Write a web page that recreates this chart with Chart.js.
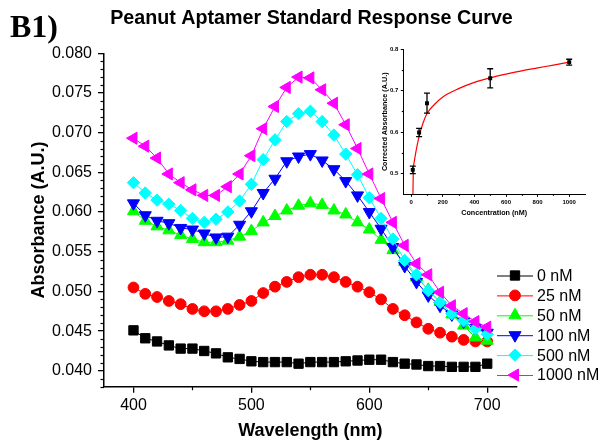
<!DOCTYPE html>
<html><head><meta charset="utf-8">
<script src="https://cdn.jsdelivr.net/npm/chart.js@4"></script>
<style>
html,body{margin:0;padding:0;background:#fff;}
#wrap{position:relative;width:598px;height:445px;}
#wrap canvas{position:absolute;left:0;top:0;}
</style></head><body>
<div id="wrap"><canvas id="main" width="598" height="445"></canvas><canvas id="inset" width="598" height="445"></canvas></div>
<script>
// ---------- data (main plot) ----------
const wavelengths = [400,410,420,430,440,450,460,470,480,490,500,510,520,530,540,550,560,570,580,590,600,610,620,630,640,650,660,670,680,690,700];
const seriesLabels = ['0 nM','25 nM','50 nM','100 nM','500 nM','1000 nM'];
const abs0nM    = [0.0451,0.0441,0.0437,0.0432,0.0428,0.0428,0.0425,0.0422,0.0417,0.0415,0.0412,0.0411,0.0411,0.0411,0.0409,0.0411,0.0411,0.0411,0.0412,0.0413,0.0414,0.0414,0.0411,0.0409,0.0408,0.0406,0.0406,0.0405,0.0405,0.0405,0.0409];
const abs25nM   = [0.0505,0.0497,0.0493,0.0488,0.0484,0.0478,0.0475,0.0475,0.0478,0.0483,0.0488,0.0498,0.0506,0.0512,0.0518,0.0521,0.0521,0.0518,0.0512,0.0506,0.0499,0.0490,0.0478,0.0470,0.0461,0.0453,0.0448,0.0443,0.0439,0.0437,0.0437];
const abs50nM   = [0.0601,0.0589,0.0582,0.0577,0.0571,0.0566,0.0562,0.0562,0.0564,0.0569,0.0576,0.0587,0.0595,0.0602,0.0608,0.0611,0.0609,0.0602,0.0597,0.0587,0.0578,0.0565,0.0552,0.0537,0.0518,0.0502,0.0487,0.0471,0.0457,0.0442,0.0438];
const abs100nM  = [0.0611,0.0596,0.0589,0.0586,0.0580,0.0578,0.0573,0.0568,0.0569,0.0584,0.0601,0.0624,0.0642,0.0664,0.0670,0.0673,0.0665,0.0654,0.0639,0.0621,0.0600,0.0579,0.0556,0.0532,0.0512,0.0495,0.0482,0.0471,0.0462,0.0454,0.0448];
const abs500nM  = [0.0637,0.0624,0.0615,0.0610,0.0602,0.0592,0.0587,0.0591,0.0600,0.0614,0.0635,0.0666,0.0691,0.0714,0.0724,0.0727,0.0714,0.0697,0.0673,0.0647,0.0618,0.0592,0.0566,0.0539,0.0521,0.0501,0.0486,0.0472,0.0463,0.0453,0.0446];
const abs1000nM = [0.0693,0.0683,0.0668,0.0648,0.0637,0.0628,0.0621,0.0621,0.0632,0.0648,0.0671,0.0705,0.0733,0.0757,0.0770,0.0769,0.0754,0.0737,0.0710,0.0680,0.0648,0.0617,0.0587,0.0558,0.0535,0.0521,0.0499,0.0482,0.0472,0.0462,0.0455];
const xTicks = [400,500,600,700];
const xMinorTicks = [450,550,650];
const yTicks = [0.040,0.045,0.050,0.055,0.060,0.065,0.070,0.075,0.080];
const yMinorTicks = [0.038,0.039,0.041,0.042,0.043,0.044,0.046,0.047,0.048,0.049,0.051,0.052,0.053,0.054,0.056,0.057,0.058,0.059,0.061,0.062,0.063,0.064,0.066,0.067,0.068,0.069,0.071,0.072,0.073,0.074,0.076,0.077,0.078,0.079];

// ---------- data (inset) ----------
const insetConc = [10,50,100,500,1000];
const insetAbs  = [0.509,0.599,0.670,0.730,0.769];
const insetErr  = [0.009,0.010,0.024,0.023,0.007];
const fitConc = [11,13,20,30,50,75,100,150,200,300,400,500,600,700,800,900,1000];
const fitAbs  = [0.450,0.500,0.530,0.553,0.590,0.622,0.645,0.668,0.685,0.705,0.720,0.731,0.740,0.748,0.755,0.762,0.769];
const insetXTicks = [0,200,400,600,800,1000];
const insetXMinor = [100,300,500,700,900];
const insetYTicks = [0.5,0.6,0.7,0.8];
const insetYMinor = [0.55,0.65,0.75];

const FONT = "'Liberation Sans', Arial, sans-serif";
const allSeries = [abs0nM, abs25nM, abs50nM, abs100nM, abs500nM, abs1000nM];
const colors = ['#000000','#ff0000','#00ff00','#0000ff','#00ffff','#ff00ff'];
const styles = [
  {pointStyle:'rect', radius:6.6, rotation:0},
  {pointStyle:'circle', radius:5.4, rotation:0},
  {pointStyle:'triangle', radius:7, rotation:0},
  {pointStyle:'triangle', radius:7, rotation:180},
  {pointStyle:'rectRot', radius:6.2, rotation:0},
  {pointStyle:'triangle', radius:7, rotation:-90}
];

const datasets = allSeries.map((arr, i) => ({
  label: seriesLabels[i],
  data: wavelengths.map((w, j) => ({x: w, y: arr[j]})),
  borderColor: colors[i],
  backgroundColor: colors[i],
  borderWidth: 1,
  pointStyle: styles[i].pointStyle,
  pointRadius: styles[i].radius,
  pointRotation: styles[i].rotation,
  pointBackgroundColor: colors[i],
  pointBorderColor: colors[i],
  pointBorderWidth: 1,
  tension: 0,
  order: 5 - i
}));

function drawMinor(chart, xs, ys, len) {
  const ctx = chart.ctx, ca = chart.chartArea;
  const sx = chart.scales.x, sy = chart.scales.y;
  ctx.save();
  ctx.strokeStyle = '#000';
  ctx.lineWidth = 1.2;
  xs.forEach(v => {
    const p = Math.round(sx.getPixelForValue(v)) + 0.5;
    ctx.beginPath(); ctx.moveTo(p, ca.bottom); ctx.lineTo(p, ca.bottom + len); ctx.stroke();
  });
  ys.forEach(v => {
    const p = Math.round(sy.getPixelForValue(v)) + 0.5;
    ctx.beginPath(); ctx.moveTo(ca.left, p); ctx.lineTo(ca.left - len, p); ctx.stroke();
  });
  ctx.restore();
}

const mainDecor = {
  id: 'mainDecor',
  afterDraw(chart) {
    drawMinor(chart, xMinorTicks, yMinorTicks, 3.5);
    const ctx = chart.ctx;
    ctx.save();
    ctx.fillStyle = '#000';
    ctx.textBaseline = 'alphabetic';
    ctx.textAlign = 'center';
    ctx.font = "bold 19.7px " + FONT;
    ctx.fillText('Peanut Aptamer Standard Response Curve', 311.5, 24);
    ctx.textAlign = 'left';
    ctx.font = "bold 32px 'Liberation Serif', 'Times New Roman', serif";
    ctx.fillText('B1)', 10, 37);
    // legend
    const x0 = 497, x1 = 533, xm = 515, xt = 537;
    chart.data.datasets.forEach((ds, i) => {
      const y = 275.5 + i * 19.9;
      ctx.strokeStyle = ds.borderColor;
      ctx.lineWidth = 1;
      ctx.beginPath(); ctx.moveTo(x0, y + 0.5); ctx.lineTo(x1, y + 0.5); ctx.stroke();
      ctx.fillStyle = ds.pointBackgroundColor;
      ctx.strokeStyle = ds.pointBorderColor;
      Chart.helpers.drawPoint(ctx, {pointStyle: ds.pointStyle, rotation: ds.pointRotation, radius: ds.pointRadius, borderWidth: 1}, xm, y);
      ctx.fillStyle = '#000';
      ctx.font = "16px " + FONT;
      ctx.textBaseline = 'middle';
      ctx.textAlign = 'left';
      ctx.fillText(ds.label, xt, y + 1);
    });
    ctx.restore();
  }
};

new Chart(document.getElementById('main'), {
  type: 'line',
  data: { datasets },
  options: {
    responsive: false, animation: false, devicePixelRatio: 1,
    layout: { padding: { left: 0, right: 81.3, top: 53.3, bottom: 0 } },
    plugins: { legend: { display: false }, tooltip: { enabled: false }, title: { display: false } },
    scales: {
      x: {
        type: 'linear', min: 375, max: 725,
        afterBuildTicks: s => { s.ticks = xTicks.map(v => ({value: v})); },
        afterFit: s => { s.height = 58.3; },
        grid: { drawOnChartArea: false, drawTicks: true, tickLength: 6, color: '#000', lineWidth: 1.3 },
        border: { display: true, color: '#000', width: 1.5 },
        ticks: { color: '#000', font: { family: FONT, size: 16 }, padding: 3, maxRotation: 0, callback: v => String(v) },
        title: { display: true, text: 'Wavelength (nm)', color: '#000', font: { family: FONT, size: 18, weight: 'bold' }, padding: { top: 0, bottom: 3 } }
      },
      y: {
        type: 'linear', min: 0.038, max: 0.080,
        afterBuildTicks: s => { s.ticks = yTicks.map(v => ({value: v})); },
        afterFit: s => { s.width = 104; },
        grid: { drawOnChartArea: false, drawTicks: true, tickLength: 6, color: '#000', lineWidth: 1.3 },
        border: { display: true, color: '#000', width: 1.5 },
        ticks: { color: '#000', font: { family: FONT, size: 16 }, padding: 6, callback: v => Number(v).toFixed(3) },
        title: { display: true, text: 'Absorbance (A.U.)', color: '#000', font: { family: FONT, size: 18, weight: 'bold' }, padding: { top: 28, bottom: 0 } }
      }
    }
  },
  plugins: [mainDecor]
});

// ---------- inset ----------
const insetDecor = {
  id: 'insetDecor',
  afterDatasetsDraw(chart) {
    const ctx = chart.ctx, sx = chart.scales.x, sy = chart.scales.y;
    ctx.save();
    ctx.strokeStyle = '#000';
    ctx.lineWidth = 1.3;
    insetConc.forEach((c, i) => {
      const px = sx.getPixelForValue(c);
      const yt = sy.getPixelForValue(insetAbs[i] + insetErr[i]);
      const yb = sy.getPixelForValue(insetAbs[i] - insetErr[i]);
      ctx.beginPath();
      ctx.moveTo(px, yt); ctx.lineTo(px, yb);
      ctx.moveTo(px - 3, yt); ctx.lineTo(px + 3, yt);
      ctx.moveTo(px - 3, yb); ctx.lineTo(px + 3, yb);
      ctx.stroke();
    });
    ctx.restore();
  },
  afterDraw(chart) { drawMinor(chart, insetXMinor, insetYMinor, 1.5); }
};

new Chart(document.getElementById('inset'), {
  type: 'line',
  data: {
    datasets: [
      { label: 'Fit', data: fitConc.map((c, i) => ({x: c, y: fitAbs[i]})), borderColor: '#ff0000', borderWidth: 1.2, pointRadius: 0, cubicInterpolationMode: 'monotone', order: 2 },
      { label: 'Corrected', data: insetConc.map((c, i) => ({x: c, y: insetAbs[i]})), showLine: false, pointStyle: 'rect', pointRadius: 2.8, pointBackgroundColor: '#000', pointBorderColor: '#000', pointBorderWidth: 0, order: 0 }
    ]
  },
  options: {
    responsive: false, animation: false, devicePixelRatio: 1,
    layout: { padding: { left: 363.3, right: 13, top: 49.3, bottom: 220.7 } },
    plugins: { legend: { display: false }, tooltip: { enabled: false } },
    scales: {
      x: {
        type: 'linear', min: -50, max: 1100,
        afterBuildTicks: s => { s.ticks = insetXTicks.map(v => ({value: v})); },
        afterFit: s => { s.height = 30; },
        grid: { drawOnChartArea: false, drawTicks: true, tickLength: 2.5, color: '#000', lineWidth: 1 },
        border: { display: true, color: '#000', width: 1 },
        ticks: { color: '#000', font: { family: FONT, size: 6, weight: 'bold' }, padding: 2, maxRotation: 0, callback: v => String(v) },
        title: { display: true, text: 'Concentration (nM)', color: '#000', font: { family: FONT, size: 7.2, weight: 'bold' }, padding: { top: 0, bottom: 6.5 } }
      },
      y: {
        type: 'linear', min: 0.45, max: 0.8,
        afterBuildTicks: s => { s.ticks = insetYTicks.map(v => ({value: v})); },
        afterFit: s => { s.width = 40; },
        grid: { drawOnChartArea: false, drawTicks: true, tickLength: 2.5, color: '#000', lineWidth: 1 },
        border: { display: true, color: '#000', width: 1 },
        ticks: { color: '#000', font: { family: FONT, size: 6, weight: 'bold' }, padding: 2.5, callback: v => Number(v).toFixed(1) },
        title: { display: true, text: 'Corrected Absorbance (A.U.)', color: '#000', font: { family: FONT, size: 7.2, weight: 'bold' }, padding: { top: 17.4, bottom: 0 } }
      }
    }
  },
  plugins: [insetDecor]
});
</script>
</body></html>
